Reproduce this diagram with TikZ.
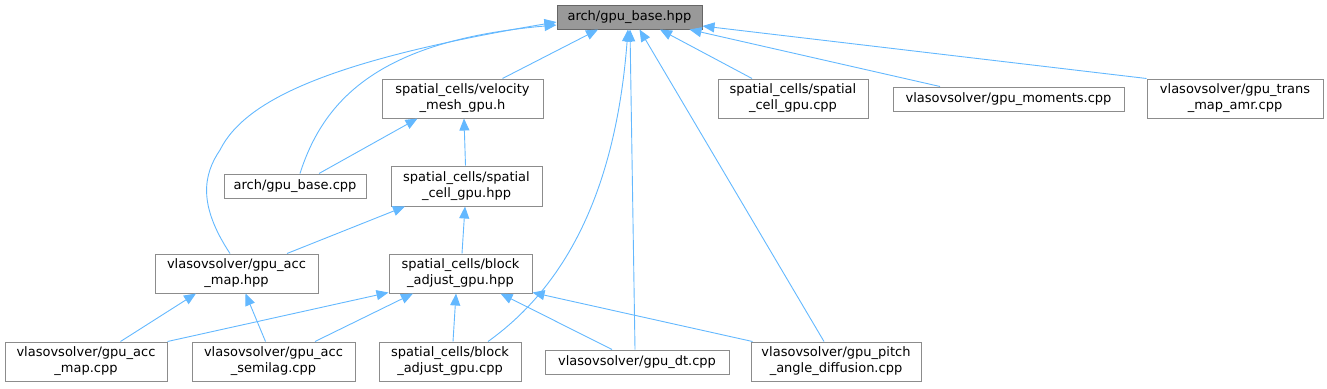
\documentclass[tikz,border=0pt]{standalone}
\usepackage{fontspec}
\setmainfont{DejaVu Sans}
\usetikzlibrary{arrows.meta}
\definecolor{edgeblue}{HTML}{63B8FF}
\definecolor{boxgray}{HTML}{8C8C8C}
\definecolor{topfill}{HTML}{999999}
\definecolor{topborder}{HTML}{666666}
\tikzset{
  file/.style={draw=boxgray, fill=white, line width=1pt, inner sep=0pt, align=center,
    minimum height=39pt, font=\fontsize{13}{16}\selectfont},
  oneline/.style={file, minimum height=24pt},
  incl/.style={draw=edgeblue, line width=0.9pt, -{Triangle[length=12pt,width=10pt]}}
}
\begin{document}
\begin{tikzpicture}[x=1pt,y=-1pt]
  \useasboundingbox (0,0) rectangle (1327,388);
  % files
  \node[oneline, fill=topfill, draw=topborder, minimum width=145pt] (basehpp) at (629.5,17) {arch/gpu\_base.hpp};
  \node[file, minimum width=161pt] (vmesh) at (462.5,98.5) {spatial\_cells/velocity\\\_mesh\_gpu.h};
  \node[file, minimum width=150pt] (scellcpp) at (793,98.5) {spatial\_cells/spatial\\\_cell\_gpu.cpp};
  \node[oneline, minimum width=231pt] (moments) at (1008.5,99) {vlasovsolver/gpu\_moments.cpp};
  \node[file, minimum width=176pt] (transamr) at (1235,98.5) {vlasovsolver/gpu\_trans\\\_map\_amr.cpp};
  \node[oneline, minimum width=142pt] (basecpp) at (295,186) {arch/gpu\_base.cpp};
  \node[file, minimum width=151pt, minimum height=40pt] (scellhpp) at (466.5,186) {spatial\_cells/spatial\\\_cell\_gpu.hpp};
  \node[file, minimum width=163pt] (accmaphpp) at (236.5,273.5) {vlasovsolver/gpu\_acc\\\_map.hpp};
  \node[file, minimum width=143pt] (badjhpp) at (460.5,273.5) {spatial\_cells/block\\\_adjust\_gpu.hpp};
  \node[file, minimum width=162pt] (accmapcpp) at (86,361.5) {vlasovsolver/gpu\_acc\\\_map.cpp};
  \node[file, minimum width=163pt] (semilag) at (273.5,361.5) {vlasovsolver/gpu\_acc\\\_semilag.cpp};
  \node[file, minimum width=142pt] (badjcpp) at (450,361.5) {spatial\_cells/block\\\_adjust\_gpu.cpp};
  \node[oneline, minimum width=184pt] (gpudt) at (637,362) {vlasovsolver/gpu\_dt.cpp};
  \node[file, minimum width=170pt] (pitch) at (836,361.5) {vlasovsolver/gpu\_pitch\\\_angle\_diffusion.cpp};
  % includes of arch/gpu_base.hpp
  \draw[incl] ([xshift=40pt]vmesh.north) -- ([xshift=-31.5pt]basehpp.south);
  \draw[incl] ([xshift=-41pt]scellcpp.north) -- ([xshift=30.5pt]basehpp.south);
  \draw[incl] ([xshift=-68.5pt]moments.north) -- ([xshift=60pt]basehpp.south);
  \draw[incl] (transamr.north west) -- ([yshift=-9pt]basehpp.east);
  \draw[incl] ([xshift=5pt]basecpp.north) .. controls (325,95) and (385,40) .. ([yshift=-8pt]basehpp.west);
  \draw[incl] ([xshift=-6.5pt]accmaphpp.north) .. controls (198,205) and (203,175) .. (220,150)
    .. controls (245,100) and (330,60) .. ([yshift=-5pt]basehpp.west);
  \draw[incl] ([xshift=38pt]badjcpp.north) .. controls (560,290) and (615,200) .. ([xshift=-1.5pt]basehpp.south);
  \draw[incl] ([xshift=-2pt]gpudt.north) -- ([xshift=0.5pt]basehpp.south);
  \draw[incl] ([xshift=-12pt]pitch.north) -- ([xshift=10pt]basehpp.south);
  % includes of the other headers
  \draw[incl] ([xshift=24pt]basecpp.north) -- ([xshift=-45pt]vmesh.south);
  \draw[incl] ([xshift=-1pt]scellhpp.north) -- ([xshift=1.5pt]vmesh.south);
  \draw[incl] ([xshift=50.5pt]accmaphpp.north) -- ([xshift=-61.5pt]scellhpp.south);
  \draw[incl] ([xshift=1.5pt]badjhpp.north) -- ([xshift=-1.5pt]scellhpp.south);
  \draw[incl] ([xshift=34.5pt]accmapcpp.north) -- ([xshift=-40.5pt]accmaphpp.south);
  \draw[incl] ([xshift=-8pt]semilag.north) -- ([xshift=9pt]accmaphpp.south);
  \draw[incl] (accmapcpp.north east) -- ([yshift=1pt]badjhpp.south west);
  \draw[incl] ([xshift=41.5pt]semilag.north) -- ([xshift=-47.5pt]badjhpp.south);
  \draw[incl] ([xshift=3pt]badjcpp.north) -- ([xshift=-4.5pt]badjhpp.south);
  \draw[incl] ([xshift=-25pt]gpudt.north) -- ([xshift=40pt]badjhpp.south);
  \draw[incl] ([xshift=2pt]pitch.north west) -- ([yshift=1pt]badjhpp.south east);
\end{tikzpicture}
\end{document}
